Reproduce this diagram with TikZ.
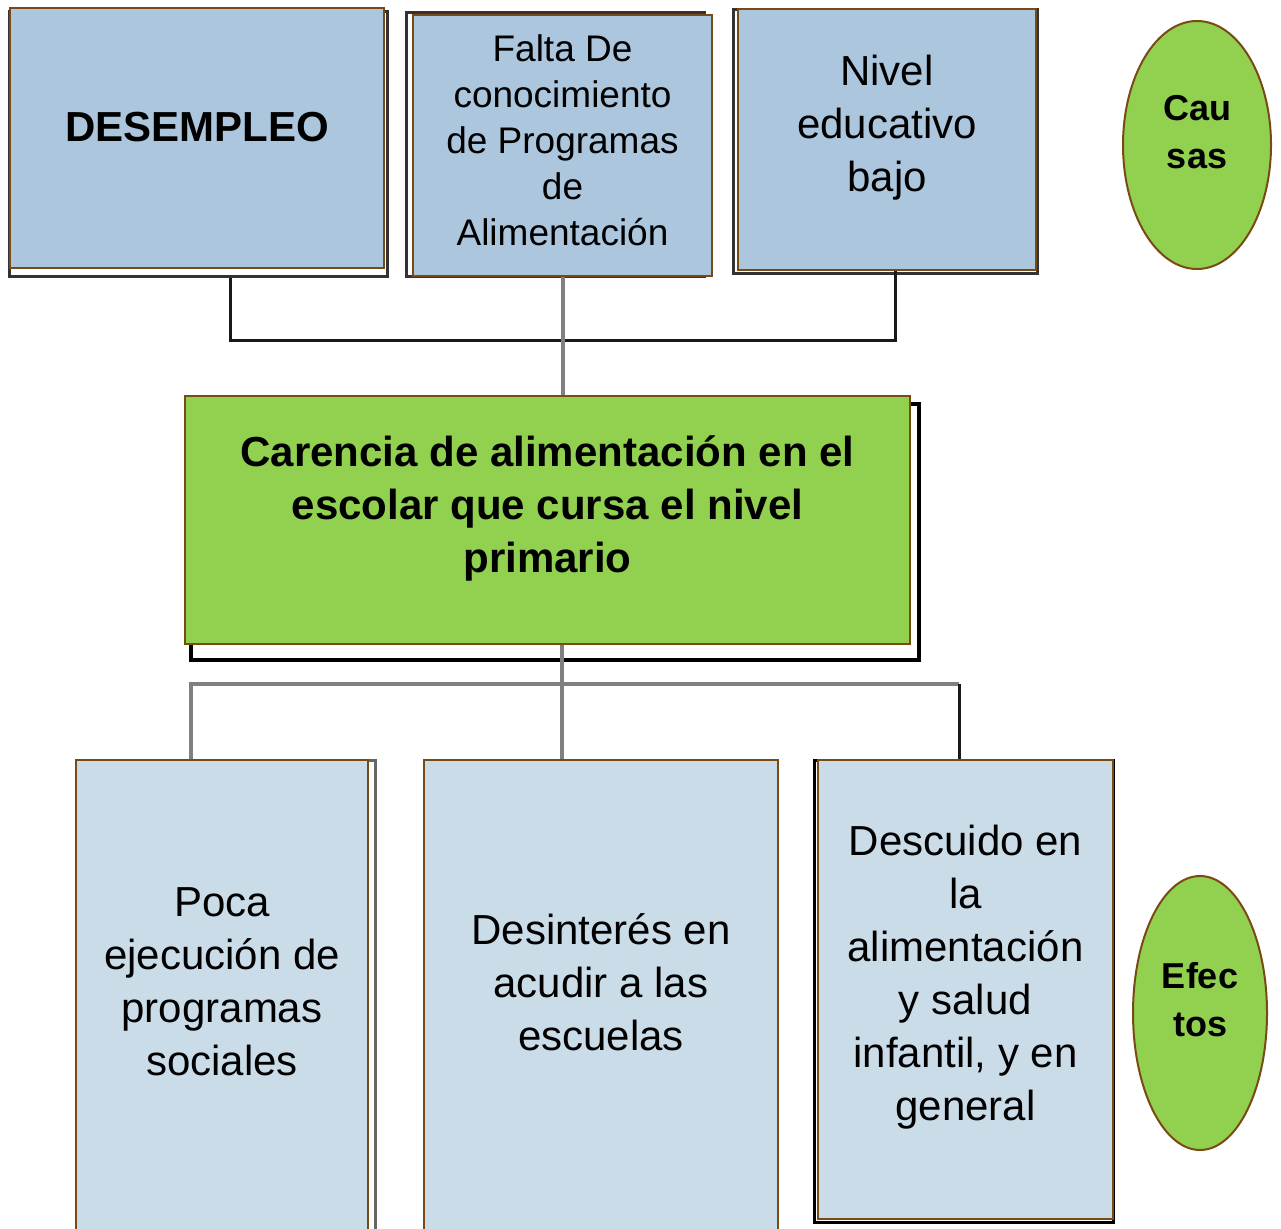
\documentclass[tikz,border=0pt]{standalone}
\usepackage{fontspec}
\setmainfont{Liberation Sans}
\usetikzlibrary{shapes.geometric}
\definecolor{boxbrown}{HTML}{7A4A14}
\definecolor{causeblue}{HTML}{ACC6DD}
\definecolor{effectblue}{HTML}{CADCE8}
\definecolor{coregreen}{HTML}{92D050}
\definecolor{linegray}{HTML}{808080}
\tikzset{
    causebox/.style = {draw=boxbrown, line width=2pt, fill=causeblue, inner sep=0pt},
    effectbox/.style = {causebox, fill=effectblue},
    corebox/.style = {causebox, fill=coregreen},
    tagoval/.style = {ellipse, draw=boxbrown, line width=2pt, fill=coregreen, inner sep=0pt},
    backline/.style = {draw=black!80, line width=3pt},
    joinline/.style = {black!90, line width=3pt},
    graylink/.style = {linegray, line width=4pt},
    boxtext/.style = {align=center, font=\fontsize{42}{53}\selectfont},
    smalltext/.style = {align=center, font=\fontsize{37}{46}\selectfont},
    boldtext/.style = {align=center, font=\fontsize{42}{53}\selectfont\bfseries},
    tagtext/.style = {align=center, font=\fontsize{36}{48}\selectfont\bfseries}
}
\begin{document}
\begin{tikzpicture}[x=1pt, y=-1pt]
    \useasboundingbox (0,0) rectangle (1281,1228);
    \clip (0,0) rectangle (1281,1228);
    \draw[backline] (9,12) rectangle (387,276);
    \draw[backline] (406,13) rectangle (704,276);
    \draw[backline] (733,10) rectangle (1037,273);
    \draw[backline, line width=4pt, draw=black] (191,404) rectangle (919,660);
    \draw[backline, draw=black!60] (78,760) rectangle (375,1240);
    \draw[backline, draw=black] (814,760) rectangle (1113,1222);

    \node[causebox, minimum width=374, minimum height=259] (desempleo) at (197,138) {};
    \node[causebox, minimum width=299, minimum height=261] (falta) at (562.5,145.5) {};
    \node[causebox, minimum width=298, minimum height=261] (nivel) at (887,139.5) {};
    \node[corebox, minimum width=725, minimum height=248] (carencia) at (547.5,520) {};
    \node[effectbox, minimum width=292, minimum height=480] (poca) at (222,1000) {};
    \node[effectbox, minimum width=354, minimum height=480] (desinteres) at (601,1000) {};
    \node[effectbox, minimum width=295, minimum height=459] (descuido) at (965.5,989.5) {};
    \node[tagoval, minimum width=148, minimum height=248] (causas) at (1197,145) {};
    \node[tagoval, minimum width=134, minimum height=274] (efectos) at (1200,1013) {};

    \node[boldtext] (desempleo-txt) at ([yshift=11pt]desempleo.center) {DESEMPLEO};
    \node[smalltext] (falta-txt) at ([yshift=5pt]falta.center) {Falta De\\conocimiento\\de Programas\\de\\Alimentación};
    \node[boxtext] (nivel-txt) at ([yshift=12pt]nivel.center) {Nivel\\educativo\\bajo};
    \node[boldtext] (carencia-txt) at ([yshift=12pt]carencia.center) {Carencia de alimentación en el\\escolar que cursa el nivel\\primario};
    \node[boxtext] (poca-txt) at ([yshift=18pt]poca.center) {Poca\\ejecución de\\programas\\sociales};
    \node[boxtext] (desinteres-txt) at ([yshift=18pt]desinteres.center) {Desinterés en\\acudir a las\\escuelas};
    \node[boxtext] (descuido-txt) at ([yshift=12pt]descuido.center) {Descuido en\\la\\alimentación\\y salud\\infantil, y en\\general};
    \node[tagtext] (causas-txt) at ([yshift=13pt]causas.center) {Cau\\sas};
    \node[tagtext] (efectos-txt) at ([yshift=13pt]efectos.center) {Efec\\tos};

    \coordinate (causejoin) at (561,340);
    \coordinate (effectjoin) at (562,684);
    \coordinate (effectright) at (959,684);
    \draw[joinline] ([xshift=33pt]desempleo.south) ++(0,9) |- (causejoin) -| ([xshift=8pt]nivel.south);
    \draw[graylink] (falta.south) -- (falta.south |- carencia.north);
    \draw[graylink] (effectjoin |- carencia.south) -- (effectjoin);
    \draw[graylink] ([xshift=-31pt]poca.north) |- (effectright);
    \draw[graylink] (effectjoin) -- (effectjoin |- desinteres.north);
    \draw[joinline] (effectright) -- (effectright |- descuido.north);
\end{tikzpicture}
\end{document}
